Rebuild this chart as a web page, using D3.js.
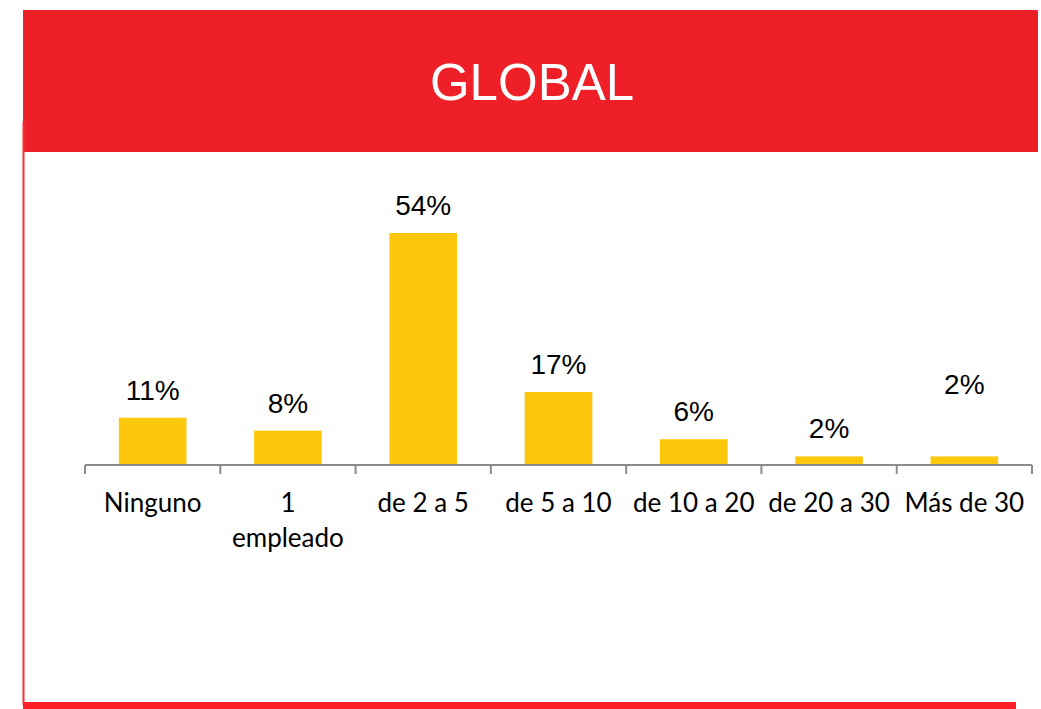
<!DOCTYPE html>
<html>
<head>
<meta charset="utf-8">
<script src="https://cdn.jsdelivr.net/npm/d3@7"></script>
<style>
  html, body { margin: 0; padding: 0; background: #fff; }
  svg { display: block; }
</style>
</head>
<body>
<svg id="chart" width="1041" height="709"></svg>
<script>
// Number of employees — share of respondents
const categories = ["Ninguno", "1\nempleado", "de 2 a 5", "de 5 a 10", "de 10 a 20", "de 20 a 30", "Más de 30"];
const values = [11, 8, 54, 17, 6, 2, 2];
const valueLabels = ["11%", "8%", "54%", "17%", "6%", "2%", "2%"];
const title = "GLOBAL";

const svg = d3.select("#chart");
const red = "#EE1F26";

// Header banner
svg.append("rect")
  .attr("x", 23).attr("y", 10).attr("width", 1015).attr("height", 142)
  .attr("fill", red);
svg.append("text")
  .attr("x", 532).attr("y", 100)
  .attr("text-anchor", "middle")
  .attr("fill", "#fff")
  .style("font-family", "'Liberation Sans', Arial, sans-serif")
  .style("font-size", "51px")
  .text(title);

// Frame: left rule and thick bottom rule
svg.append("line")
  .attr("x1", 23.5).attr("x2", 23.5).attr("y1", 122).attr("y2", 705)
  .attr("stroke", "#F5333A").attr("stroke-width", 2);
svg.append("rect")
  .attr("x", 23).attr("y", 702).attr("width", 993).attr("height", 7)
  .attr("fill", "#FF1F28");

// Plot area
const left = 85, right = 1032, baseY = 465;
const x = d3.scaleBand().domain(categories).range([left, right]).paddingInner(0.5).paddingOuter(0.25);
const y = d3.scaleLinear().domain([0, 54]).range([baseY, 233]);

svg.append("g").selectAll("rect")
  .data(values)
  .join("rect")
  .attr("x", (d, i) => x(categories[i]))
  .attr("width", x.bandwidth())
  .attr("y", d => y(d))
  .attr("height", d => baseY - y(d))
  .attr("fill", "#FDC70C");

// Value labels; the last one sits higher above its bar
const raisedLabel = "Más de 30";
svg.append("g").selectAll("text")
  .data(values)
  .join("text")
  .attr("x", (d, i) => x(categories[i]) + x.bandwidth() / 2)
  .attr("y", (d, i) => y(d) - 18 - (categories[i] === raisedLabel ? 44 : 0))
  .attr("text-anchor", "middle")
  .attr("fill", "#000")
  .style("font-family", "'Liberation Sans', Arial, sans-serif")
  .style("font-size", "28px")
  .text((d, i) => valueLabels[i]);

// Category axis with ticks at band boundaries
const axisColor = "#8C8C8C";
const axisG = svg.append("g");
axisG.append("line")
  .attr("x1", left).attr("x2", right).attr("y1", baseY).attr("y2", baseY)
  .attr("stroke", axisColor).attr("stroke-width", 2);
const bounds = d3.range(categories.length + 1).map(i => left + i * (right - left) / categories.length);
axisG.selectAll("line.tick")
  .data(bounds)
  .join("line")
  .attr("class", "tick")
  .attr("x1", d => d).attr("x2", d => d)
  .attr("y1", baseY).attr("y2", baseY + 9)
  .attr("stroke", axisColor).attr("stroke-width", 2);

const catText = axisG.selectAll("text")
  .data(categories)
  .join("text")
  .attr("text-anchor", "middle")
  .attr("fill", "#000")
  .style("font-family", "Lato, 'Open Sans', sans-serif")
  .style("font-size", "26px");
catText.each(function(d) {
  const cx = x(d) + x.bandwidth() / 2;
  d3.select(this).selectAll("tspan")
    .data(d.split("\n"))
    .join("tspan")
    .attr("x", cx)
    .attr("y", (t, j) => 512 + j * 35)
    .text(t => t);
});
</script>
</body>
</html>
